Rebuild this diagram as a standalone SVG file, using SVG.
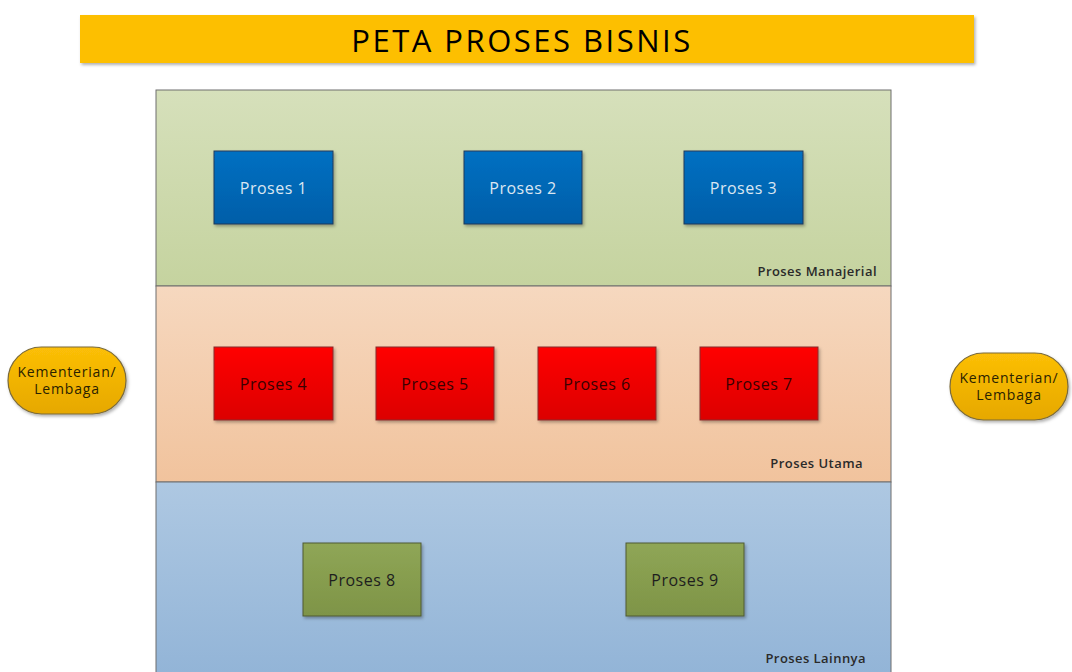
<svg xmlns="http://www.w3.org/2000/svg" width="1072" height="672" viewBox="0 0 1072 672">
  <defs>
    <linearGradient id="gLaneTop" x1="0" y1="0" x2="0" y2="1">
      <stop offset="0" stop-color="#d6e0bb"/>
      <stop offset="1" stop-color="#c5d39f"/>
    </linearGradient>
    <linearGradient id="gLaneMid" x1="0" y1="0" x2="0" y2="1">
      <stop offset="0" stop-color="#f6d8bf"/>
      <stop offset="1" stop-color="#f1c39d"/>
    </linearGradient>
    <linearGradient id="gLaneLow" x1="0" y1="0" x2="0" y2="1">
      <stop offset="0" stop-color="#aec8e2"/>
      <stop offset="1" stop-color="#92b4d7"/>
    </linearGradient>
    <linearGradient id="gBlue" x1="0" y1="0" x2="0" y2="1">
      <stop offset="0" stop-color="#0670c2"/>
      <stop offset="1" stop-color="#005ea8"/>
    </linearGradient>
    <linearGradient id="gRed" x1="0" y1="0" x2="0" y2="1">
      <stop offset="0" stop-color="#ff0000"/>
      <stop offset="1" stop-color="#dc0000"/>
    </linearGradient>
    <linearGradient id="gOlive" x1="0" y1="0" x2="0" y2="1">
      <stop offset="0" stop-color="#8fa656"/>
      <stop offset="1" stop-color="#7e9447"/>
    </linearGradient>
    <linearGradient id="gGold" x1="0" y1="0" x2="0" y2="1">
      <stop offset="0" stop-color="#fcbf07"/>
      <stop offset="1" stop-color="#e6a800"/>
    </linearGradient>
    <filter id="shadow" x="-10%" y="-10%" width="125%" height="130%">
      <feDropShadow dx="1.5" dy="2" stdDeviation="1.5" flood-color="#000" flood-opacity="0.3"/>
    </filter>
  </defs>
  <style>
    .lane { stroke: #6f6f6f; stroke-width: 1; }
    .lane-label { font-family: "Open Sans", "Noto Sans", sans-serif; font-size: 13px; font-weight: 600; letter-spacing: 0.45px; fill: #2a2a2a; text-anchor: end; }
    .proc { stroke-width: 1; filter: url(#shadow); }
    .blue { fill: url(#gBlue); stroke: #1f3b5a; }
    .red { fill: url(#gRed); stroke: #8a2a2a; }
    .olive { fill: url(#gOlive); stroke: #4e5a33; }
    .ptext { font-family: "Open Sans", "Noto Sans", sans-serif; font-size: 16px; letter-spacing: 0.5px; text-anchor: middle; }
    .blue-t { fill: #dbe6f2; }
    .red-t { fill: #3a0000; }
    .olive-t { fill: #1e1e1e; }
    .pill { fill: url(#gGold); stroke: #7a6a3a; stroke-width: 1.2; filter: url(#shadow); }
    .pill-t { font-family: "Open Sans", "Noto Sans", sans-serif; font-size: 14px; letter-spacing: 0.8px; fill: #2a2200; text-anchor: middle; }
  </style>

  <rect width="1072" height="672" fill="#ffffff"/>

  <!-- title banner -->
  <g id="title">
    <rect x="80" y="15" width="894" height="48" fill="#fdbf00" filter="url(#shadow)"/>
    <text x="522" y="52" font-family="'Open Sans', 'Noto Sans', sans-serif" font-size="31" fill="#000" text-anchor="middle" letter-spacing="2.5">PETA PROSES BISNIS</text>
  </g>

  <!-- swimlanes -->
  <g id="lane-manajerial">
    <rect class="lane" x="156" y="90" width="735" height="196" fill="url(#gLaneTop)"/>
    <text class="lane-label" x="877" y="276">Proses Manajerial</text>
  </g>
  <g id="lane-utama">
    <rect class="lane" x="156" y="286" width="735" height="196" fill="url(#gLaneMid)"/>
    <text class="lane-label" x="863" y="468">Proses Utama</text>
  </g>
  <g id="lane-lainnya">
    <rect class="lane" x="156" y="482" width="735" height="196" fill="url(#gLaneLow)"/>
    <text class="lane-label" x="866" y="663">Proses Lainnya</text>
  </g>

  <!-- managerial processes -->
  <g id="proses-1">
    <rect class="proc blue" x="214" y="151" width="119" height="73"/>
    <text class="ptext blue-t" x="273.5" y="194">Proses 1</text>
  </g>
  <g id="proses-2">
    <rect class="proc blue" x="464" y="151" width="118" height="73"/>
    <text class="ptext blue-t" x="523" y="194">Proses 2</text>
  </g>
  <g id="proses-3">
    <rect class="proc blue" x="684" y="151" width="119" height="73"/>
    <text class="ptext blue-t" x="743.5" y="194">Proses 3</text>
  </g>

  <!-- core processes -->
  <g id="proses-4">
    <rect class="proc red" x="214" y="347" width="119" height="73"/>
    <text class="ptext red-t" x="273.5" y="390">Proses 4</text>
  </g>
  <g id="proses-5">
    <rect class="proc red" x="376" y="347" width="118" height="73"/>
    <text class="ptext red-t" x="435" y="390">Proses 5</text>
  </g>
  <g id="proses-6">
    <rect class="proc red" x="538" y="347" width="118" height="73"/>
    <text class="ptext red-t" x="597" y="390">Proses 6</text>
  </g>
  <g id="proses-7">
    <rect class="proc red" x="700" y="347" width="118" height="73"/>
    <text class="ptext red-t" x="759" y="390">Proses 7</text>
  </g>

  <!-- supporting processes -->
  <g id="proses-8">
    <rect class="proc olive" x="303" y="543" width="118" height="73"/>
    <text class="ptext olive-t" x="362" y="586">Proses 8</text>
  </g>
  <g id="proses-9">
    <rect class="proc olive" x="626" y="543" width="118" height="73"/>
    <text class="ptext olive-t" x="685" y="586">Proses 9</text>
  </g>

  <!-- external stakeholders -->
  <g id="kl-left">
    <rect class="pill" x="8" y="347" width="118" height="67" rx="33.5" ry="33.5"/>
    <text class="pill-t" x="67" y="377">Kementerian/</text>
    <text class="pill-t" x="67" y="394">Lembaga</text>
  </g>
  <g id="kl-right">
    <rect class="pill" x="950" y="353" width="118" height="67" rx="33.5" ry="33.5"/>
    <text class="pill-t" x="1009" y="383">Kementerian/</text>
    <text class="pill-t" x="1009" y="400">Lembaga</text>
  </g>

  <!-- no connectors are drawn between the nodes -->
  <g id="connectors"/>
</svg>
